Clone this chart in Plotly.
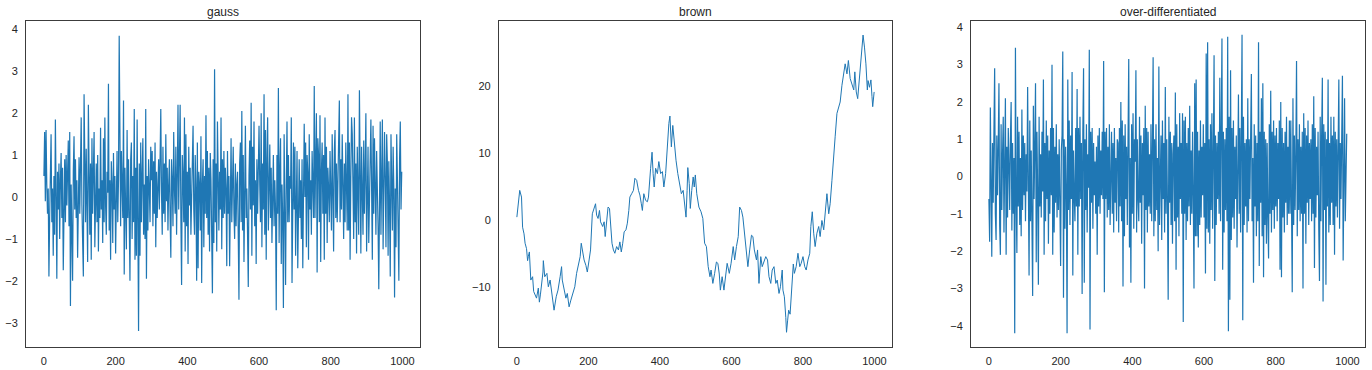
import plotly.graph_objects as go

titles = ["gauss", "brown", "over-differentiated"]
x_ticks = [0, 200, 400, 600, 800, 1000]

# --- gauss series (read every 2nd index) ---
gauss = [
    0.5, 1.55, -0.1, 1.6, 0.3, -0.4, 0.2, -1.9, -0.5, 0.3,
    1.5, -0.6, 0.2, -1.4, 0.5, -0.9, 1.85, 0.1, -1.95, 0.6,
    -0.3, 0.8, -1.0, 0.4, 1.05, -0.5, 0.7, -1.75, 0.2, 0.9,
    -0.6, 1.0, -0.2, 0.5, 1.35, -0.7, 1.55, -2.6, 0.3, -0.9,
    -2.0, 0.6, 1.45, -0.3, 0.9, -0.5, 0.4, -1.45, 0.1, 0.95,
    -0.4, 0.7, 1.9, -0.2, -0.8, -1.9, 2.45, 0.1, -0.6, 1.15,
    -0.3, -1.55, 2.2, 0.2, -0.9, 0.8, -1.5, 1.4, -0.4, 0.6,
    1.55, -1.2, 0.3, 0.8, -0.6, 1.0, -1.3, 0.2, -0.5, 1.65,
    -0.3, 0.4, -1.1, 1.4, -0.6, 1.9, -0.2, -0.9, 0.6, 0.1,
    2.7, -0.8, 0.4, -1.5, 0.85, 0.3, -1.1, 1.05, -0.3, 0.5,
    -1.35, 0.2, 1.1, -0.6, 0.4, 3.85, 0.6, -0.7, 1.1, 0.3,
    -0.5, 2.3, -1.85, 0.7, -0.4, -1.25, 1.6, -0.5, 0.9, -0.8,
    -2.0, 0.9, 1.3, -1.0, 0.5, -0.6, 2.1, -1.5, 0.7, -1.4,
    1.85, -0.6, -3.2, 0.8, -1.4, 1.3, -0.6, 0.5, 1.4, -0.9,
    0.3, -1.0, 2.1, -1.95, 0.5, -0.8, 0.9, 0.2, -0.6, 1.2,
    0.4, 1.1, -0.7, 0.85, -0.4, 1.3, -1.2, 0.6, -0.5, 0.2,
    0.9, -0.3, 0.6, 2.1, 0.1, -0.9, 1.2, -0.4, 0.8, -0.6,
    1.5, -0.1, 0.7, -0.8, 0.3, 0.9, -0.5, -1.45, 0.9, 0.4,
    -0.7, 1.55, 0.2, -0.4, 1.2, -0.9, 0.5, 2.2, -0.3, 0.8,
    2.2, -0.5, -2.1, 1.0, 0.5, -0.6, 1.9, -1.3, 1.5, -0.7,
    0.6, -1.6, 1.2, -0.2, 0.7, -0.9, 0.4, 1.0, 1.7, -0.3,
    -0.9, 1.0, 0.2, -2.0, 1.3, -1.7, 0.6, 0.3, -0.8, 1.45,
    -2.05, 0.3, 0.9, -1.2, 0.5, -0.4, 1.95, -0.5, 1.1, -0.9,
    0.7, -1.3, 1.05, 0.4, -0.6, -2.3, 0.9, -1.1, 3.05, -0.6,
    0.8, -1.3, 1.8, 0.0, -0.8, 0.6, -0.3, 1.9, -1.25, 0.9,
    -0.5, 1.1, -0.4, 0.7, 0.2, -1.65, 1.1, -0.4, 0.5, -1.65,
    0.7, 1.4, -0.6, 0.4, 1.2, -0.4, -1.0, 0.8, -0.7, 0.3,
    0.6, -0.9, -2.45, 0.8, 1.3, -0.6, 2.05, -0.8, 1.0, -1.55,
    0.7, 1.7, -0.5, 0.2, -0.9, -2.15, 0.5, 1.35, -0.3, 2.25,
    -1.4, 1.2, -0.2, 1.8, -0.7, 0.4, -1.6, 0.9, -0.4, 1.2,
    1.7, 0.3, -0.6, 2.0, -1.2, 0.8, -0.3, 2.45, -0.9, 1.6,
    -1.5, 0.9, 1.9, -0.8, 0.5, 1.25, -0.5, 0.7, -1.1, 0.6,
    1.0, -0.7, 0.4, -0.3, -2.7, 1.0, -0.4, 2.6, -1.1, 0.6,
    1.4, -1.6, 0.3, -0.5, -2.65, 1.5, -0.8, -2.1, 0.3, 1.8,
    -0.6, 1.0, -0.6, 0.5, 0.2, 1.9, -2.05, 0.5, 1.3, -0.3,
    1.2, -1.4, 0.7, 1.1, -1.7, 0.2, 0.9, -0.5, 0.4, -1.0,
    0.9, -1.7, 0.3, 1.75, 0.0, 1.3, -1.2, 1.0, 0.6, -1.5,
    1.5, -0.3, 0.4, -0.9, 1.1, 0.2, -0.5, 2.65, -0.5, 0.9,
    2.0, -1.8, 1.4, 1.0, -0.6, 1.95, -1.55, 0.6, 1.3, -0.4,
    1.0, -1.5, 1.9, -0.4, 1.2, -1.1, 0.7, 0.2, -0.6, 1.1,
    0.4, -0.8, 1.5, 0.3, -1.3, 1.1, 1.6, -0.5, 0.8, -0.6,
    0.5, 1.2, 2.3, -0.6, 0.9, -0.3, 1.5, 0.3, -1.0, 0.8,
    -0.6, 1.3, 0.1, -0.8, 2.45, -0.8, 1.3, -1.5, 0.5, 1.9,
    1.5, 0.4, -1.0, 1.9, -0.6, 0.8, -1.35, 1.2, 0.5, -0.9,
    2.55, 0.2, -1.35, 1.2, 0.5, -0.9, 1.35, -0.4, 0.6, 2.0,
    -1.3, 0.7, 1.2, -1.1, 0.4, 0.9, 1.85, 0.0, -1.5, 1.7,
    -0.4, 1.4, 0.6, -0.9, 1.1, 0.3, -0.7, -2.2, 0.5, 1.8,
    -0.9, 1.2, 1.85, -1.25, 0.6, 1.55, 0.4, -1.2, 1.5, 0.8,
    -1.4, 0.85, -0.2, -1.9, 1.5, 0.3, -0.8, 1.2, 0.2, -2.4,
    0.2, -1.2, 1.5, 0.4, -0.7, -2.0, 0.9, 1.8, -0.3, 0.6,
]
gauss_x = [2 * i for i in range(len(gauss))]

# --- brown series (random walk, read at irregular indices) ---
brown_x = [
    0, 4, 8, 13, 16, 20, 23, 27, 30, 32, 35, 39, 44, 47, 51, 55, 60, 63, 66, 69,
    73, 74, 78, 84, 88, 93, 98, 101, 104, 110, 115, 121, 125, 127, 132, 137, 141, 146, 151, 156,
    162, 167, 172, 177, 180, 184, 188, 193, 197, 202, 206, 211, 216, 220, 223, 227, 231, 234, 240, 244,
    247, 251, 255, 259, 262, 266, 270, 274, 279, 284, 288, 292, 296, 300, 305, 309, 313, 316, 321, 326,
    330, 335, 340, 344, 348, 351, 355, 360, 365, 368, 374, 378, 381, 384, 388, 393, 397, 402, 407, 411,
    416, 421, 425, 428, 432, 436, 441, 445, 450, 456, 460, 465, 470, 473, 476, 478, 482, 485, 489, 493,
    496, 499, 503, 509, 515, 520, 525, 530, 535, 540, 543, 548, 553, 558, 562, 566, 569, 574, 579, 583,
    588, 594, 599, 605, 609, 614, 619, 623, 628, 632, 637, 642, 646, 651, 656, 660, 664, 670, 673, 677,
    682, 686, 692, 696, 701, 705, 710, 714, 719, 724, 728, 733, 737, 742, 744, 748, 752, 754, 757, 760,
    764, 769, 773, 776, 781, 786, 791, 795, 800, 805, 809, 814, 819, 822, 826, 830, 834, 839, 844, 848,
    853, 858, 863, 867, 872, 876, 881, 886, 890, 895, 900, 904, 909, 914, 918, 923, 927, 932, 937, 942,
    945, 949, 953, 957, 962, 965, 968, 972, 976, 980, 982, 986, 990, 993, 995, 999,
]
brown = [
    0.5, 2.5, 4.5, 3.5, -1.0, -2.0, -3.4, -4.2, -6.0, -5.4, -4.7, -8.9, -8.4, -10.6, -11.1, -11.6, -10.1, -12.2, -11.0, -9.9,
    -7.7, -6.0, -8.4, -7.9, -9.9, -8.9, -10.9, -12.4, -13.4, -11.4, -10.4, -8.4, -6.9, -8.9, -10.4, -11.6, -10.9, -12.9, -11.9, -11.1,
    -9.9, -7.9, -6.4, -5.4, -3.4, -4.9, -5.9, -6.7, -7.7, -5.9, -4.4, 1.0, 2.0, 2.5, 0.8, 0.3, 1.5, -0.2, -0.9, -0.2,
    -2.4, 0.0, 2.0, 1.8, -0.4, -3.4, -4.4, -4.9, -3.9, -4.4, -3.2, -4.7, -3.4, -1.7, -1.4, -0.4, 1.5, 3.5, 4.0, 4.5,
    6.3, 6.0, 4.5, 3.8, 2.5, 1.5, 4.0, 3.0, 2.8, 3.5, 7.8, 10.2, 7.0, 5.0, 7.8, 7.0, 8.8, 7.0, 7.3, 5.0,
    7.0, 12.0, 14.5, 15.6, 11.0, 14.2, 10.5, 9.0, 7.0, 5.0, 4.0, 4.5, 1.8, 0.5, 4.5, 7.9, 5.5, 1.8, 4.5, 6.5,
    5.0, 6.8, 4.0, 2.0, 1.3, 0.3, -3.4, -3.9, -6.9, -8.4, -7.4, -9.4, -7.9, -6.2, -6.4, -8.0, -10.4, -8.4, -10.4, -8.7,
    -6.4, -7.9, -6.4, -3.9, -5.9, -3.9, -2.4, 2.0, 1.5, 0.5, -2.2, -3.9, -6.9, -4.4, -2.2, -2.4, -4.4, -5.9, -4.4, -9.4,
    -5.4, -6.9, -5.9, -5.4, -5.9, -8.4, -9.4, -7.4, -6.9, -9.4, -8.9, -10.9, -9.9, -7.4, -10.4, -11.4, -14.5, -16.7, -15.0, -13.4,
    -14.0, -10.2, -6.5, -7.9, -6.9, -4.9, -6.9, -6.4, -5.4, -6.9, -7.4, -5.9, -4.9, -0.9, 1.3, -1.9, -3.9, -1.9, -0.9, -2.4,
    0.0, -1.4, 1.5, 4.0, 1.0, 2.5, 6.0, 9.0, 12.5, 16.0, 17.0, 17.7, 20.2, 22.4, 23.4, 21.9, 23.9, 21.2, 20.4, 19.5,
    22.2, 19.2, 18.2, 20.9, 24.4, 26.9, 27.7, 25.9, 23.4, 19.5, 20.9, 19.9, 21.0, 18.5, 17.0, 19.2,
]

# --- over-differentiated series (read every 2nd index) ---
overdiff = [
    -0.6, -1.75, 1.85, -0.4, -2.15, 0.9, -0.7, 1.2, 2.9, -1.0,
    -1.7, 1.1, -0.5, 0.8, 2.5, -1.3, -2.1, 1.4, -0.9, 0.6,
    1.6, -1.5, 0.7, 2.1, -2.1, 0.8, -1.1, 1.3, 0.3, -0.9,
    1.0, 2.0, -1.45, 0.9, -1.0, 0.5, -4.2, 3.45, -0.6, -2.05,
    1.6, -0.8, 1.2, -1.3, 0.5, -1.6, 1.8, -0.9, 1.1, -0.5,
    0.9, -1.2, 0.6, -0.4, 2.4, -1.6, -2.65, 1.5, -1.2, 0.7,
    -0.9, -3.2, 1.9, -0.6, 0.8, 2.5, -2.3, 1.2, -0.5, -2.9,
    1.6, -0.8, 0.6, -1.1, 1.2, -0.4, 2.6, -2.1, 0.9, -1.2,
    1.5, -0.6, 1.1, -1.8, 0.7, -1.0, 1.3, -0.5, 3.0, -2.1,
    1.3, -1.5, 0.8, -0.7, 1.4, -1.1, 0.6, -0.9, 1.0, -0.4,
    -2.4, 0.7, 1.1, 3.35, -3.25, 1.0, -1.4, 0.8, -0.3, -4.2,
    2.6, -0.9, 1.5, -1.3, 1.1, -0.6, 2.8, -2.65, 0.7, -0.5,
    -1.2, 1.3, -0.8, 2.35, -2.1, 1.3, -0.8, 1.6, -0.6, 0.9,
    -3.15, 1.2, 2.9, -2.85, 1.0, -0.9, 1.4, -1.5, 0.6, -0.3,
    3.4, -4.1, 1.2, -0.7, 1.3, -1.4, 0.9, -0.5, 0.4, -1.0,
    0.8, -2.1, 1.1, -0.8, 1.3, -1.0, 0.7, -0.5, 1.2, -0.6,
    3.1, -3.1, 1.2, -0.6, 1.3, -1.1, 0.8, -0.9, 1.4, -1.3,
    0.6, 1.2, -1.0, 0.9, -1.5, 1.3, -0.7, 0.5, -1.2, 1.0,
    0.9, -1.5, 1.3, -0.8, 2.0, -1.2, 1.5, -2.95, 1.1, -1.6,
    1.4, -0.6, 0.8, -1.3, 1.0, 3.15, -1.9, 0.5, -2.85, 1.4,
    -1.0, 1.7, -1.4, 1.0, 0.4, 2.85, -1.5, 1.0, -0.6, -1.2,
    1.6, -0.7, 1.1, -1.8, 0.9, -0.5, 1.3, -3.0, 1.9, -0.9,
    1.3, -1.5, 1.2, -0.8, 0.6, -1.0, 1.4, -1.2, 0.7, 3.2,
    -1.6, 1.0, -1.2, 1.4, -0.9, 0.5, -2.0, 2.95, -1.3, 0.9,
    1.1, -1.7, 1.5, -0.6, 0.9, -1.5, 2.4, -1.0, 1.0, -0.7,
    -3.3, 1.6, -0.7, 1.2, -1.3, 0.9, -1.8, 0.6, 1.1, -1.2,
    2.25, -2.5, 1.4, -1.1, 0.8, -1.6, 1.7, -0.6, 0.9, -1.0,
    1.7, -3.9, 1.5, -1.0, 1.6, -1.7, 0.9, -1.2, 1.3, -0.8,
    1.9, -1.3, 0.7, -1.0, 1.2, -0.6, -3.0, 2.5, -1.6, 2.6,
    -1.6, 1.2, -1.9, 0.7, -1.3, 1.5, -1.1, 0.8, -0.5, 1.4,
    -1.1, 0.9, -2.6, 3.3, -1.4, 3.6, -1.5, 1.0, -1.8, 1.4,
    -0.9, 1.7, -1.4, 0.6, 3.25, -2.8, 1.1, -1.3, 0.9, -0.6,
    1.2, -1.0, 2.65, -1.2, 0.8, 3.7, -2.5, 1.2, -1.5, 1.0,
    -0.9, 1.3, -1.2, 3.75, -4.15, 1.6, -3.3, 2.85, -1.7, 1.3,
    -1.1, 1.5, -1.4, 0.8, -0.6, 1.1, -1.9, 1.2, 2.2, -1.0,
    1.3, -1.5, 1.6, 3.8, -3.85, 1.6, -1.3, 0.9, -0.8, 1.0,
    -1.5, 2.1, -1.2, 1.0, -0.6, 1.3, 2.75, -1.2, 0.5, -2.85,
    1.4, -0.8, 1.1, -1.6, 0.9, -1.2, 3.6, -2.4, 1.2, -0.7,
    2.1, -1.6, 2.5, -2.7, 1.2, -1.3, 1.0, -1.8, 0.9, -1.1,
    -2.2, 1.4, -1.0, 2.3, -1.5, 1.2, -0.9, 1.5, -1.4, 1.1,
    -0.8, 1.3, -1.2, 0.9, -0.6, 1.5, -2.5, 2.0, -2.7, 1.3,
    -1.1, 0.9, -1.5, 1.2, -0.7, 1.6, -1.3, 0.8, -1.0, 1.5,
    -1.0, 1.5, -1.4, -3.1, 2.1, -1.3, 1.1, -0.9, 0.6, 3.1,
    -1.6, 1.0, -0.9, 1.4, -1.2, 0.8, -1.0, 1.2, -3.0, 1.7,
    -1.0, 1.3, -1.8, 1.1, -0.7, 1.5, -1.3, 0.9, -0.6, 1.0,
    -1.2, 1.4, -1.0, 2.15, -2.45, 1.3, -1.1, 0.8, -0.5, 1.2,
    -1.4, -2.8, 1.6, -1.2, 1.1, 2.65, -3.35, 1.4, -0.9, 1.2,
    -2.9, 1.0, -0.8, 2.6, -1.5, 0.9, -1.3, 1.6, -0.7, 1.1,
    -1.3, 1.6, -2.1, 1.2, -0.8, 1.0, -1.1, 0.7, 2.6, -1.4,
    0.9, -0.6, 1.3, 2.7, -2.25, 1.3, 2.1, -1.2, 0.4, 1.15,
]
overdiff_x = [2 * i for i in range(len(overdiff))]

series = [(gauss_x, gauss), (brown_x, brown), (overdiff_x, overdiff)]
line_widths = [1.2, 1.0, 1.2]
y_ranges = [[-3.58, 4.2], [-18.9, 29.8], [-4.57, 4.17]]
y_ticks = [list(range(-3, 5)), [-10, 0, 10, 20], list(range(-4, 5))]

# Page coordinates (the body margin is removed after plotting, see post_script).
W, H = 1372, 370
def px_x(v):
    return v / W
def px_y(v):
    return 1 - v / H

x_domains = [[px_x(26), px_x(420)], [px_x(499), px_x(892)], [px_x(971), px_x(1365)]]
y_domain = [px_y(347), px_y(21)]

LINE = "#1f77b4"
TEXT = "#262626"
FRAME = "#3c3c3c"
FONT = "Liberation Sans, Arial, sans-serif"

fig = go.Figure()
for i, ((xs, ys), title) in enumerate(zip(series, titles)):
    n = "" if i == 0 else str(i + 1)
    fig.add_trace(go.Scatter(
        x=xs, y=ys, mode="lines",
        line=dict(color=LINE, width=line_widths[i]),
        xaxis="x" + n, yaxis="y" + n, showlegend=False, hoverinfo="skip",
    ))
    axis_common = dict(
        showline=True, mirror=True, linecolor=FRAME, linewidth=1.1,
        showgrid=False, zeroline=False, ticks="",
        tickfont=dict(family=FONT, size=11, color=TEXT),
    )
    fig.update_layout(**{
        "xaxis" + n: dict(domain=x_domains[i], range=[-49.95, 1048.95],
                          tickvals=x_ticks, anchor="y" + n,
                          ticklabelstandoff=4, **axis_common),
        "yaxis" + n: dict(domain=y_domain, range=y_ranges[i],
                          tickvals=y_ticks[i], anchor="x" + n,
                          ticklabelstandoff=5, **axis_common),
    })
    fig.add_annotation(
        text=title, xref="paper", yref="paper",
        x=sum(x_domains[i]) / 2, y=px_y(11.5),
        xanchor="center", yanchor="middle", showarrow=False,
        font=dict(family=FONT, size=12, color=TEXT),
    )

fig.update_layout(
    width=W, height=H,
    margin=dict(l=0, r=0, t=0, b=0),
    paper_bgcolor="white", plot_bgcolor="white",
)

fig.write_html(
    "out.html",
    config={"displayModeBar": False},
    post_script="document.body.style.margin='0';document.body.style.overflow='hidden';",
)
